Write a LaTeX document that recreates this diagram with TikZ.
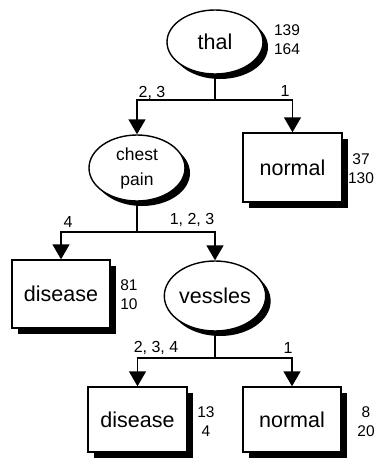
\documentclass[tikz,border=0pt]{standalone}
\usepackage{fontspec}
\setmainfont{Liberation Sans}
\usetikzlibrary{arrows.meta,shapes.geometric,shadows}
\begin{document}
\begin{tikzpicture}[x=1pt,y=-1pt,
  shad/.style={drop shadow={shadow xshift=5pt,shadow yshift=-5pt,fill=black,opacity=1}},
  split/.style={ellipse,draw,line width=1.4pt,fill=white,inner sep=0pt,shad,font=\fontsize{21.5}{24}\selectfont},
  leaf/.style={rectangle,draw,line width=1.4pt,fill=white,inner sep=0pt,
     drop shadow={shadow xshift=6pt,shadow yshift=-6pt,fill=black,opacity=1},font=\fontsize{21.5}{24}\selectfont},
  stat/.style={align=center,inner sep=0pt,font=\fontsize{15.5}{19}\selectfont},
  lab/.style={inner sep=0pt,font=\fontsize{16}{18}\selectfont},
  conn/.style={line width=1.4pt},
  arr/.style={conn,-{Triangle[length=15pt,width=17pt]}}]
\useasboundingbox (0,0) rectangle (379,461);
% nodes
\node[split,minimum width=96pt,minimum height=64pt] (thal) at (215,42) {thal};
\node[split,minimum width=96pt,minimum height=66pt,align=center,font=\fontsize{17.5}{25}\selectfont] (cp) at (137,168) {chest\\pain};
\node[leaf,minimum width=99pt,minimum height=69pt] (n1) at (292.5,167.5) {normal};
\node[leaf,minimum width=98pt,minimum height=68pt] (d1) at (61,294) {disease};
\node[split,minimum width=98pt,minimum height=70pt] (ves) at (215,296) {vessles};
\node[leaf,minimum width=99pt,minimum height=65pt] (d2) at (137.5,419.5) {disease};
\node[leaf,minimum width=98pt,minimum height=65pt] (n2) at (292,419.5) {normal};
% stats
\node[stat] (s1) at (287,40) {139\\164};
\node[stat] (s2) at (361,169) {37\\130};
\node[stat] (s3) at (129,295) {81\\10};
\node[stat] (s4) at (206,422) {13\\4};
\node[stat] (s5) at (366,422) {8\\20};
% connectors
\coordinate (j1) at (215,100);
\coordinate (j2) at (137,232);
\coordinate (j3) at (215,358);
\draw[conn] (thal.south) -- (j1);
\draw[arr] (j1) -| (cp.north);
\draw[arr] (j1) -| (n1.north);
\draw[conn] (cp.south) -- (j2);
\draw[arr] (j2) -| (d1.north);
\draw[arr] (j2) -| (ves.north);
\draw[conn] (ves.south) -- (j3);
\draw[arr] (j3) -| (d2.north);
\draw[arr] (j3) -| (n2.north);
% branch labels
\node[lab] (l1) at (152,93) {2, 3};
\node[lab] (l2) at (285,91) {1};
\node[lab] (l3) at (68,222) {4};
\node[lab] (l4) at (192,220) {1, 2, 3};
\node[lab] (l5) at (156,348) {2, 3, 4};
\node[lab] (l6) at (288,348) {1};
\end{tikzpicture}
\end{document}
